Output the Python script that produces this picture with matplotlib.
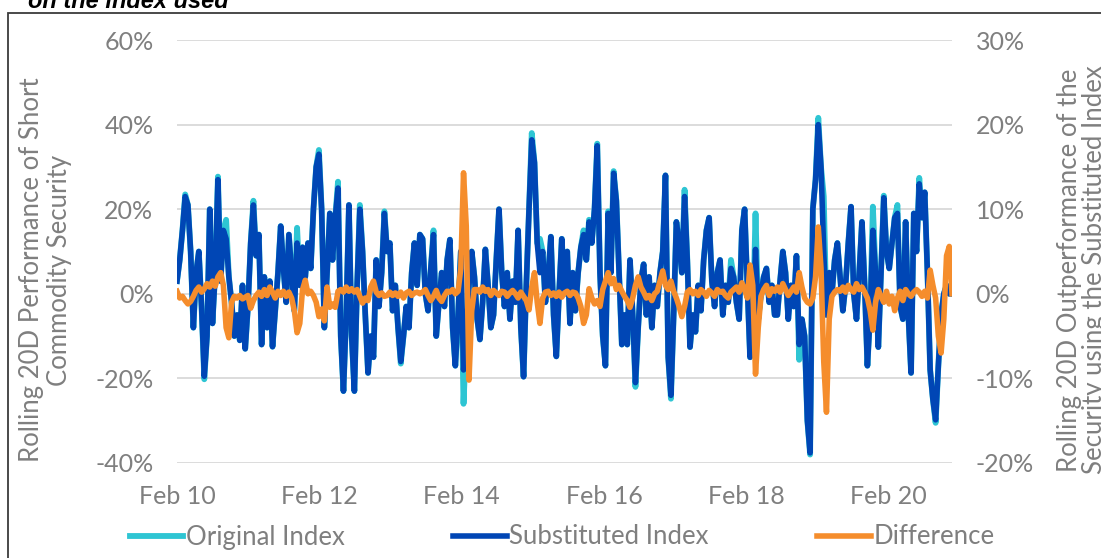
import matplotlib
matplotlib.use("Agg")
import matplotlib.pyplot as plt
import matplotlib.dates as mdates
from matplotlib.ticker import FuncFormatter
from matplotlib.patches import Rectangle
import pandas as pd

plt.rcParams["font.family"] = ["Lato", "DejaVu Sans"]

# fortnightly readings of the rolling 20D performance (%), left axis
substituted = [
    3, 8, 15, 23, 21, 10, -8, 5, 10, -3,
    -19.5, -10, 20, -7, 5, 27, 3, 15, 13, 4,
    -2, -10, -5, -11, 2, -13, -3, 12, 21, 9,
    14, -12, 4, -8, 3, -12.5, -4, 5, 16, 6,
    -2, 14, 5, -4, 12, 2, 11, 4, 12, 6,
    20, 30, 33, 20, -8, 5, 19, 8, 18, 25,
    -10, -23, -5, 21, -10, -23, 2, 20, 10, -5,
    -18.7, -10, -15, 8, -3, 5, 19, 10, 12, -4,
    2, -8, -16, -10, -3, -8, 5, 12, 2, 14,
    13, 0, -4, 6, 14, -10, -2, 5, -3, 8,
    12.8, -8, -17, -5, 10, -18, -10, 2, 10, 4,
    -6, -10.8, -2, 10.5, 2, -8, -5, 8, 20, 5,
    -3, 5, -6, 3, -2, 15, -8, -19.6, 2, 20,
    36.4, 31, 12, 5, 10, -2, 4, 13.5, -5, -14.8,
    0, 13, 0, 10, -7, 5, -4, 5, 11, 14,
    8, 17, 12, 20, 35, 5, -10, -17, 19, 5,
    28.5, 22, 5, -12, -5, -12, 8, -5, -21, -8,
    3, 7, -5, 4, -8, 2, -3, 5, 10, 28,
    -15, -24, -5, 17, 12, 5, 23, 8, -12.6, -5,
    -9, 2, -4, 8, 15, 18, 3, -3, 5, 8,
    -5, 2, -2, 6, 4, -2, -6, 15, 20, 2,
    -15, -8, 10.5, -6, 0, 4, 6, -2, 2, -5,
    -5, 3, 10, 5, -6, 2, -3, 9, -12, -6,
    -10, -30, -37.6, 20, 27, 40, 30, 10, -5, 5,
    0, 8, 12, 4, -4, 2, 12, 20.6, 0, -6,
    5, 17, 2, -17, -5, 15, 5, -12.6, 5, 22.7,
    10, 6, 12, 18, 19, -3, -6, 17, -5, -18.7,
    19, 10, 26, 18, 24, 5, -18, -25, -29.8, -17,
    -5, 0, 2, 0, 0,
]

original = [
    3, 8, 15, 23.5, 21, 10, -8, 5, 10, -3,
    -20.2, -10, 20, -7, 5, 27.7, 3, 15, 17.5, 4,
    -2, -10, -5, -11, 2, -13, -3, 12, 22, 9,
    14, -12, 4, -8, 3, -12.5, -4, 5, 16, 6,
    -2, 14, 5, -4, 15.6, 2, 11, 4, 12, 6,
    20, 30, 34, 20, -8, 5, 19, 8, 18, 26.5,
    -10, -23, -5, 21, -10, -23, 2, 21, 10, -5,
    -18.7, -10, -15, 8, -3, 5, 19.5, 10, 12, -4,
    2, -8, -16.5, -10, -3, -8, 5, 12, 2, 14,
    13, 0, -4, 6, 15, -10, -2, 5, -3, 8,
    12.8, -8, -17, -5, 10, -26, -10, 2, 10, 4,
    -6, -10.8, -2, 10.5, 2, -8, -5, 8, 20, 5,
    -3, 5, -6, 3, -2, 15, -8, -19.6, 2, 20,
    38, 31, 12, 13, 10, -2, 4, 13.5, -5, -14.8,
    0, 13, 0, 10, -7, 5, -4, 5, 11, 15,
    8, 17.5, 12, 20, 35.5, 5, -10, -17, 19.5, 5,
    29, 22, 5, -12, -5, -12, 8, -5, -22, -8,
    3, 7, -5, 4, -8, 2, -3, 5, 10, 28,
    -15, -24.8, -5, 17, 12, 5, 24.6, 8, -12.6, -5,
    -9, 2, -4, 8, 15, 18, 3, -3, 5, 8,
    -5, 2, -2, 8, 4, -2, -6, 15, 20, 2,
    -15, -8, 19, -6, 0, 4, 6, -2, 2, -5,
    -5, 3, 10, 5, -6, 2, -3, 9, -15.6, -6,
    -10, -30, -38, 20, 27, 41.6, 30, 23, -5, 5,
    0, 8, 12, 4, -4, 2, 12, 20.6, 0, -6,
    5, 17, 2, -17, -5, 20.6, 5, -12.6, 5, 23.2,
    10, 6, 12, 18, 21, -3, -6, 17, -5, -18.7,
    19, 10, 27.4, 18, 24, 5, -18, -25, -30.5, -17,
    -5, 0, 2, 0, 0,
]

# outperformance of the security using the substituted index (%), right axis
difference = [
    0.3, -0.5, -0.3, -0.8, -1.2, -0.9, -0.3, 0.4, 0.8, 0.2,
    0.6, 1.2, 0.8, 1.5, 0.9, 2.0, 2.5, 1.0, -4.0, -5.2,
    -1.0, -0.3, -0.5, -0.2, -0.6, -0.4, -0.2, -1.7, -0.8, -0.2,
    0.2, -0.3, 0.5, -0.2, 0.8, 0.2, -0.5, 0.3, -0.2, 0.3,
    -0.3, 0.2, -0.5, -2.0, -4.6, -3.5, 0.5, 1.6, 0.0, 0.3,
    -0.2, -1.0, -2.7, -1.8, -3.2, 0.8, -1.6, -1.2, -1.6, 0.3,
    0.5, 0.2, 0.8, 0.3, 0.6, 0.2, 0.5, -0.3, -1.1, -0.5,
    -0.8, 0.8, 1.5, 0.2, -0.2, 0.1, -0.3, -0.2, 0.2, -0.2,
    0.1, -0.3, 0.2, -0.5, 0.1, 0.3, -0.2, 0.1, 0.2, 0.0,
    0.2, 0.5, -0.2, -0.8, -0.3, 0.4, -0.5, -0.9, -0.2, 0.3,
    0.2, 0.5, 0.0, 0.3, 3.0, 14.3, 8.0, -10.2, -2.0, 0.5,
    0.5, 0.2, 0.8, 0.3, 0.5, -0.2, 0.4, 0.1, -0.2, 0.3,
    0.2, -0.3, 0.1, 0.4, 0.0, -0.5, 0.2, -0.3, -0.8, -1.9,
    0.8, 2.5, -1.0, -3.5, -0.5, 0.2, 0.3, -0.2, 0.1, -0.3,
    0.2, -0.4, 0.1, 0.3, -0.2, 0.2, 0.1, -0.5, -1.5, -3.5,
    -2.5, 0.6, -0.5, -1.2, -0.8, -1.5, 0.5, 1.5, 2.5, 1.2,
    1.8, 0.5, 1.0, 0.3, -0.3, -0.8, -1.6, -0.5, 1.0, 2.0,
    0.8, 0.2, -0.5, -0.2, -0.8, 0.0, 0.3, 1.5, 2.7, 1.0,
    0.5, 1.5, 0.3, -0.5, -1.5, -2.7, -1.5, 0.2, 0.5, 0.0,
    0.3, -0.2, 0.5, 0.2, -0.3, 0.4, 0.1, -0.3, 0.5, 0.2,
    0.3, -0.2, -0.5, 0.2, 0.5, 0.8, 0.2, 1.3, 0.5, -0.5,
    3.4, 1.0, -9.5, -4.0, -0.3, 0.5, 1.0, -0.2, 0.6, 0.3,
    0.8, 0.2, 1.2, 0.5, -0.2, 0.3, 0.8, 0.2, 2.5, 0.8,
    -0.5, -1.0, -1.2, -0.5, 2.0, 7.9, 3.0, -8.0, -14.0, -3.0,
    -0.3, 0.2, 0.5, 0.3, 0.8, 0.2, 1.0, 0.5, 0.2, 1.2,
    0.5, 0.8, 0.2, -0.5, -2.0, -4.3, -1.0, 0.5, -0.3, -1.0,
    0.3, -1.2, -0.3, -2.0, -0.5, 0.3, -0.8, 0.5, 0.0, -0.3,
    0.2, 0.5, 0.2, -0.3, 0.3, -0.5, 2.8, 1.0, -0.5, -5.0,
    -7.0, -3.0, 4.5, 5.6, 0.0,
]

dates = pd.date_range("2010-02-01", periods=len(substituted), freq="14D")
tick_years = [2010, 2012, 2014, 2016, 2018, 2020]

CYAN = "#2ec5d3"
BLUE = "#0046b5"
ORANGE = "#f58d2c"
TEXT = "#7f7f7f"

W, H = 1101, 558
fig = plt.figure(figsize=(W / 100, H / 100), dpi=100)
ax = fig.add_axes([177 / W, 1 - 463 / H, (952 - 177) / W, (463 - 40) / H])
ax2 = ax.twinx()

l1, = ax.plot(dates, original, color=CYAN, lw=4.2, solid_joinstyle="round")
l2, = ax.plot(dates, substituted, color=BLUE, lw=4.0, solid_joinstyle="round")
l3, = ax2.plot(dates, difference, color=ORANGE, lw=4.0, solid_joinstyle="round")

ax.set_xlim(dates[0], dates[-1])
ax.set_ylim(-40, 60)
ax.set_yticks(range(-40, 61, 20))
ax2.set_ylim(-20, 30)
ax2.set_yticks(range(-20, 31, 10))
pct = FuncFormatter(lambda v, _: f"{v:.0f}%")
ax.yaxis.set_major_formatter(pct)
ax2.yaxis.set_major_formatter(pct)

ax.set_xticks([pd.Timestamp(f"{y}-02-01") for y in tick_years])
ax.xaxis.set_major_formatter(mdates.DateFormatter("%b %y"))

ax.yaxis.grid(True, color="#dcdcdc", lw=1.4)
ax.set_axisbelow(True)
for a in (ax, ax2):
    for s in a.spines.values():
        s.set_visible(False)
ax.tick_params(axis="y", length=0, pad=17, labelsize=18, labelcolor=TEXT)
ax.tick_params(axis="x", length=0, pad=16, labelsize=18, labelcolor=TEXT)
ax2.tick_params(axis="y", length=0, pad=17, labelsize=18, labelcolor=TEXT)

fig.text(46 / W, 1 - 270 / H, "Rolling 20D Performance of Short\nCommodity Security",
         rotation=90, ha="center", va="center", multialignment="center",
         fontsize=18.5, color=TEXT, linespacing=1.15)
fig.text(1082 / W, 1 - 270 / H, "Rolling 20D Outperformance of the\nSecurity using the Substituted Index",
         rotation=90, ha="center", va="center", multialignment="center",
         fontsize=18.5, color=TEXT, linespacing=1.0)

fig.text(28 / W, 1 - 8 / H, "on the index used", fontsize=17, fontweight="bold",
         fontstyle="italic", family="Liberation Sans", va="baseline", color="black")

fig.add_artist(Rectangle((8 / W, -0.1), 1.2, 1.1 - 13 / H, transform=fig.transFigure,
                         fill=False, ec="#3c3c3c", lw=1.3))

fig.legend([l1, l2, l3], ["Original Index", "Substituted Index", "Difference"],
           loc="center", bbox_to_anchor=(562 / W, 1 - 537 / H), ncol=3, frameon=False,
           fontsize=18.5, labelcolor=TEXT, handlelength=2.1, handletextpad=0.1,
           columnspacing=4.2)

fig.savefig("out.png", dpi=100)
